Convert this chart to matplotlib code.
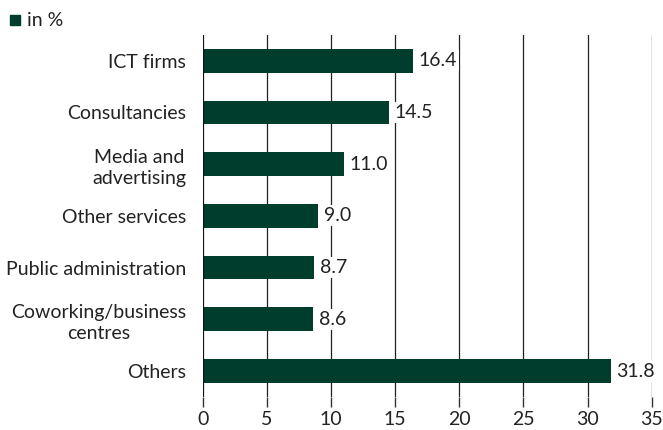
import matplotlib
matplotlib.use("Agg")
import matplotlib.pyplot as plt

categories = ["ICT firms", "Consultancies", "Media and\nadvertising", "Other services",
              "Public administration", "Coworking/business\ncentres", "Others"]
values = [16.4, 14.5, 11.0, 9.0, 8.7, 8.6, 31.8]
ticks = [0, 5, 10, 15, 20, 25, 30, 35]

green = "#003d2c"
plt.rcParams["font.family"] = ["Lato", "DejaVu Sans"]

fig = plt.figure(figsize=(6.63, 4.30), dpi=100)
fig.patch.set_facecolor("white")
ax = fig.add_axes([0.306, 0.077, 0.677, 0.842])

pos = list(range(len(categories)))
ax.barh(pos, values, height=0.46, color=green, zorder=3)
ax.set_ylim(len(categories) - 0.5, -0.5)
ax.set_xlim(0, 35)
ax.set_xticks(ticks)
ax.set_xticklabels([str(t) for t in ticks], fontsize=14, color="#222222")
ax.set_yticks(pos)
ax.set_yticklabels(categories, fontsize=14, color="#222222", multialignment="center",
                   linespacing=1.3)
ax.tick_params(axis="y", length=0, pad=12)
ax.tick_params(axis="x", length=7, width=1, color="#333333", pad=3)

for t in ticks[1:]:
    ax.axvline(t, color="#222222", lw=0.9, zorder=1)
ax.axvline(0, color="#111111", lw=1.6, zorder=4)

for s in ax.spines.values():
    s.set_visible(False)

for p, v in zip(pos, values):
    ax.text(v + 0.45, p, f"{v:.1f}", va="center", ha="left", fontsize=14, color="#222222",
            zorder=5, bbox=dict(facecolor="white", edgecolor="none", pad=1.5))

fig.patches.append(plt.Rectangle((10 / 663, 1 - 25 / 430), 10 / 663, 10 / 430,
                                 transform=fig.transFigure, color=green))
fig.text(27 / 663, 1 - 20 / 430, "in %", fontsize=14, color="#222222", va="center")

fig.savefig("out.png", dpi=100)
